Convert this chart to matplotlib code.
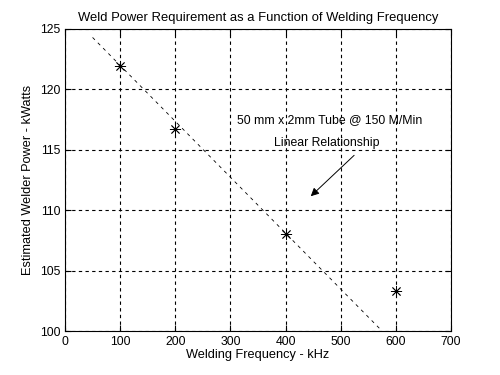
import matplotlib
matplotlib.use('Agg')
import matplotlib.pyplot as plt

# ---- données ----
freq_khz = [100, 200, 400, 600]
power_kw = [121.9, 116.7, 108.0, 103.3]

# droite de tendance (extrémités)
fit_x = [50, 575]
fit_y = [124.3, 100.0]

xticks = [0, 100, 200, 300, 400, 500, 600, 700]
yticks = [100, 105, 110, 115, 120, 125]

# ---- plot ----
plt.rcParams['font.family'] = ['Liberation Sans', 'DejaVu Sans']
plt.rcParams['font.size'] = 8

fig = plt.figure(figsize=(5, 3.75), dpi=100)
ax = fig.add_axes([0.13, 0.1173, 0.772, 0.8054])

ax.plot(fit_x, fit_y, color='k', lw=0.6, ls=(0, (4, 5)))
ax.plot(freq_khz, power_kw, ls='none', marker=(8, 2, 0), ms=8, mew=0.6,
        color='k')

ax.set_xlim(0, 700)
ax.set_ylim(100, 125)
ax.set_xticks(xticks)
ax.set_yticks(yticks)
ax.grid(True, color='k', ls=(0, (3, 3)), lw=0.8)
ax.tick_params(direction='in', length=4, top=True, right=True, width=0.8,
               labelsize=8.8)
for sp in ax.spines.values():
    sp.set_linewidth(0.8)

ax.set_title('Weld Power Requirement as a Function of Welding Frequency',
             fontsize=9.4, pad=6)
ax.set_xlabel('Welding Frequency - kHz', fontsize=9.2, labelpad=1)
ax.set_ylabel('Estimated Welder Power - kWatts', fontsize=9.2, labelpad=4)

ax.text(479, 117.5, '50 mm x 2mm Tube @ 150 M/Min', ha='center',
        va='center', fontsize=8.8)
ax.text(475, 115.6, 'Linear Relationship', ha='center', va='center',
        fontsize=8.8)
ax.annotate('', xy=(442, 111.0), xytext=(528, 114.7),
            arrowprops=dict(arrowstyle='-|>', color='k', lw=0.7,
                            mutation_scale=12))

fig.savefig('out.png', dpi=100)
